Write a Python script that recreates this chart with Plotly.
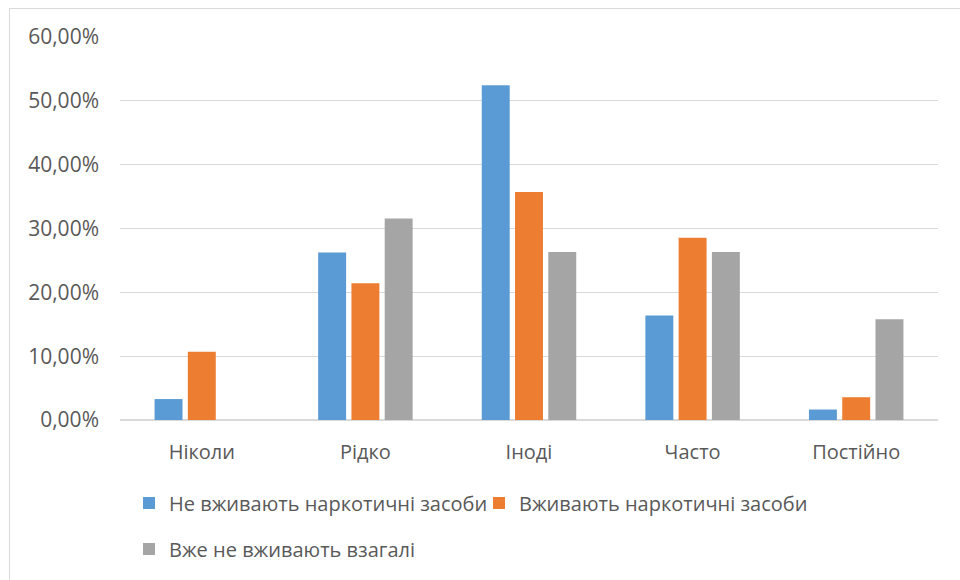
import plotly.graph_objects as go

categories = ["Ніколи", "Рідко", "Іноді", "Часто", "Постійно"]
series_names = ["Не вживають наркотичні засоби", "Вживають наркотичні засоби", "Вже не вживають взагалі"]
not_using = [0.0328, 0.2623, 0.5246, 0.1639, 0.0164]
using = [0.1071, 0.2143, 0.3571, 0.2857, 0.0357]
quit_all = [0.0, 0.3158, 0.2632, 0.2632, 0.1579]
colors = ["#5B9BD5", "#ED7D31", "#A5A5A5"]
y_ticks = [0, 0.1, 0.2, 0.3, 0.4, 0.5, 0.6]
y_tick_labels = ["0,00%", "10,00%", "20,00%", "30,00%", "40,00%", "50,00%", "60,00%"]

FONT = "Open Sans"
TXT = "#595959"

L, R, T, B = 120, 22, 37, 160
PW, PH = 960 - L - R, 580 - T - B


def px_x(px):
    return (px - L) / PW


def px_y(py):
    return (580 - B - py) / PH


fig = go.Figure()
for name, vals, col, lg in zip(series_names, [not_using, using, quit_all], colors,
                               ["legend", "legend2", "legend3"]):
    fig.add_trace(go.Bar(x=categories, y=vals, name=name, marker=dict(color=col, line=dict(width=0)),
                         legend=lg))

leg_common = dict(orientation="h", xanchor="left", yanchor="middle",
                  font=dict(family=FONT, size=20, color=TXT), bgcolor="rgba(0,0,0,0)")

fig.update_layout(
    width=960, height=580,
    margin=dict(l=L, r=R, t=T, b=B),
    paper_bgcolor="white", plot_bgcolor="white",
    barmode="group", bargap=0.39, bargroupgap=0.16,
    font=dict(family=FONT, size=20, color=TXT),
    xaxis=dict(showgrid=False, showline=False, ticks="", ticklabelstandoff=18,
               tickfont=dict(size=20, color=TXT)),
    yaxis=dict(range=[0, 0.6], tickvals=y_ticks, ticktext=y_tick_labels, showgrid=True,
               gridcolor="#d9d9d9", gridwidth=1, zeroline=True, zerolinecolor="#d9d9d9",
               showline=False, ticks="", ticklabelstandoff=20, tickfont=dict(size=21, color=TXT)),
    legend=dict(x=px_x(129), y=px_y(503), **leg_common),
    legend2=dict(x=px_x(479), y=px_y(503), **leg_common),
    legend3=dict(x=px_x(129), y=px_y(549), **leg_common),
    showlegend=True,
    shapes=[
        dict(type="line", xref="paper", yref="paper", x0=px_x(9.5), y0=px_y(8.5), x1=px_x(960), y1=px_y(8.5),
             line=dict(width=1, color="#d9d9d9")),
        dict(type="line", xref="paper", yref="paper", x0=px_x(9.5), y0=px_y(8.5), x1=px_x(9.5), y1=px_y(580),
             line=dict(width=1, color="#d9d9d9")),
    ],
)
fig.write_html("out.html")
